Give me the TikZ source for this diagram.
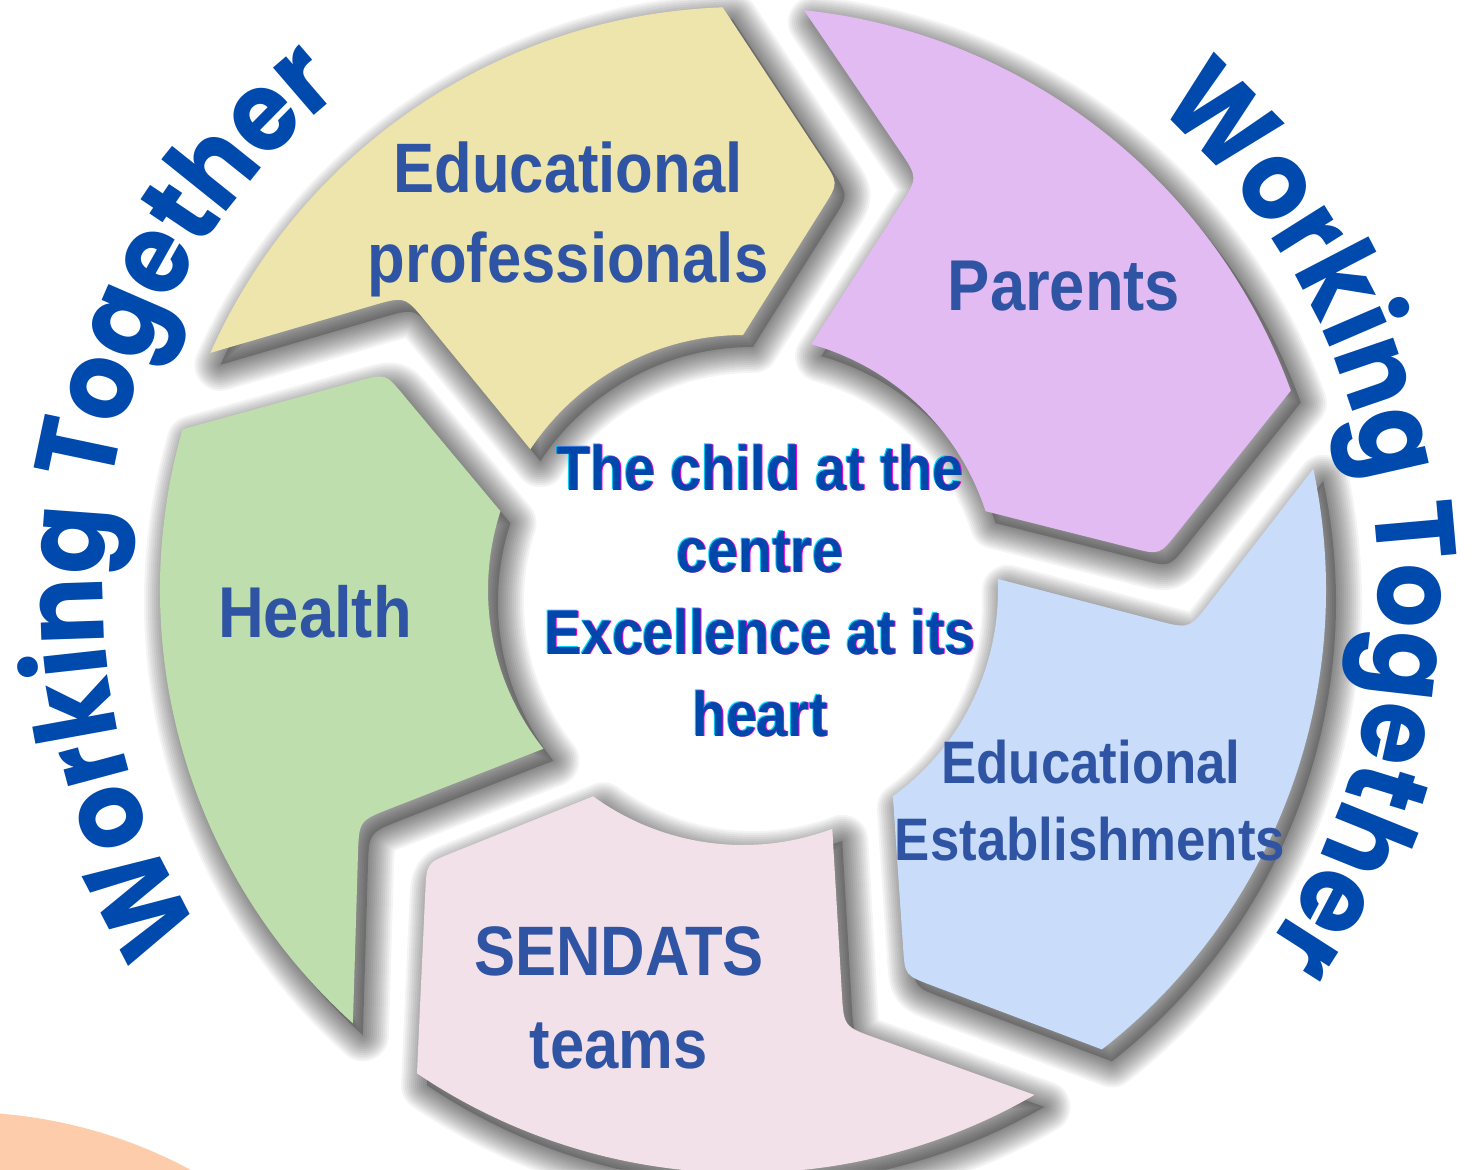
\documentclass[tikz,border=0pt]{standalone}
\usepackage{fontspec}
\setmainfont{Liberation Sans}
\newfontfamily\labfont{Liberation Sans}[FakeStretch=0.88]
\newfontfamily\wtfont{Poppins}[FakeStretch=0.9]
\usetikzlibrary{calc,decorations.text}

\definecolor{cyel}{RGB}{237,229,172}
\definecolor{cpur}{RGB}{225,187,241}
\definecolor{cblu}{RGB}{201,221,251}
\definecolor{cpnk}{RGB}{242,225,233}
\definecolor{cgrn}{RGB}{190,223,173}
\definecolor{cpch}{RGB}{253,204,170}
\definecolor{labblue}{RGB}{48,84,164}
\definecolor{wtblue}{RGB}{0,74,173}
\definecolor{ctrblue}{RGB}{0,71,171}
\definecolor{fringecyan}{RGB}{0,220,255}
\definecolor{fringemag}{RGB}{240,0,220}

% one chevron-shaped ring segment (base orientation: top-left segment)
\newcommand{\segpath}{(156:583) arc[start angle=156, end angle=92, radius=291.5pt]
  -- ($(92:583)!0.86!(76.8:418)$) .. controls (76.8:418) .. ($(76.8:418)!0.15!(90:255)$)
  -- (90:255) arc[start angle=90, end angle=146.5, radius=127.5pt]
  -- ($(146.5:255)!0.83!(139:448)$) .. controls (139:448) .. ($(139:448)!0.17!(156:583)$)
  -- cycle}

% centre text line with thin colour fringes
\newcommand{\ctrline}[4]{%
  \node[ctrtext, text=fringecyan] (#1c) at ($(#2,#3)+(-1,0.6)$) {#4};
  \node[ctrtext, text=fringemag] (#1m) at ($(#2,#3)+(1,-0.6)$) {#4};
  \node[ctrtext, text=ctrblue] (#1) at (#2,#3) {#4};}

\begin{document}
\begin{tikzpicture}[x=0.5pt,y=0.5pt,
  seglabel/.style={inner sep=0pt, anchor=base, text=labblue},
  ctrtext/.style={inner sep=0pt, anchor=base, font=\labfont\bfseries\fontsize{31.5}{36}\selectfont},
  wtext/.style={decorate, decoration={text along path, text align=center,
      text={|\wtfont\bfseries\fontsize{56}{60}\selectfont\color{wtblue}|Working Together}}}]

\useasboundingbox (-743,-579) rectangle (740,590);
\clip (-743,-579) rectangle (740,590);
\fill[white] (-743,-579) rectangle (740,590);

% peach circle at bottom-left corner
\fill[cpch] (-783,-1010) circle[radius=244pt];

% soft shadows of the segments
\foreach \r in {0,-72,-144,144,72}{
  \begin{scope}[shift={(10,-12)}, rotate=\r]
    \path[fill=black, opacity=0.2] \segpath;
    \foreach \w in {2,4,...,26}{
      \path[draw=black, line width=\w*1pt, line join=round, opacity=0.042] \segpath;
    }
  \end{scope}
}

% the five segments
\foreach \r/\c in {0/cyel,-72/cpur,-144/cblu,144/cpnk,72/cgrn}{
  \begin{scope}[rotate=\r]
    \fill[\c] \segpath;
  \end{scope}
}

% segment labels
\node[seglabel, font=\labfont\bfseries\fontsize{35}{42}\selectfont] (ep1) at (-175,398) {Educational};
\node[seglabel, font=\labfont\bfseries\fontsize{35}{42}\selectfont] (ep2) at (-175,308) {professionals};
\node[seglabel, font=\labfont\bfseries\fontsize{36}{42}\selectfont] (par) at (321,280) {Parents};
\node[seglabel, font=\labfont\bfseries\fontsize{36}{42}\selectfont] (hea) at (-428,-47) {Health};
\node[seglabel, font=\labfont\bfseries\fontsize{35}{42}\selectfont] (sen1) at (-124,-385) {SENDATS};
\node[seglabel, font=\labfont\bfseries\fontsize{35}{42}\selectfont] (sen2) at (-124,-478) {teams};
\node[seglabel, font=\labfont\bfseries\fontsize{30}{36}\selectfont] (ee1) at (348,-193) {Educational};
\node[seglabel, font=\labfont\bfseries\fontsize{30}{36}\selectfont] (ee2) at (347,-270) {Establishments};

% centre text
\ctrline{ct1}{17}{100}{The child at the}
\ctrline{ct2}{17}{18}{centre}
\ctrline{ct3}{17}{-64}{Excellence at its}
\ctrline{ct4}{17}{-146}{heart}

% curved "Working Together" texts
\path[wtext] (235.5:640) arc[start angle=235.5, end angle=105.5, radius=320pt];
\path[wtext] (72.5:635) arc[start angle=72.5, end angle=-57.5, radius=317.5pt];

\end{tikzpicture}
\end{document}
